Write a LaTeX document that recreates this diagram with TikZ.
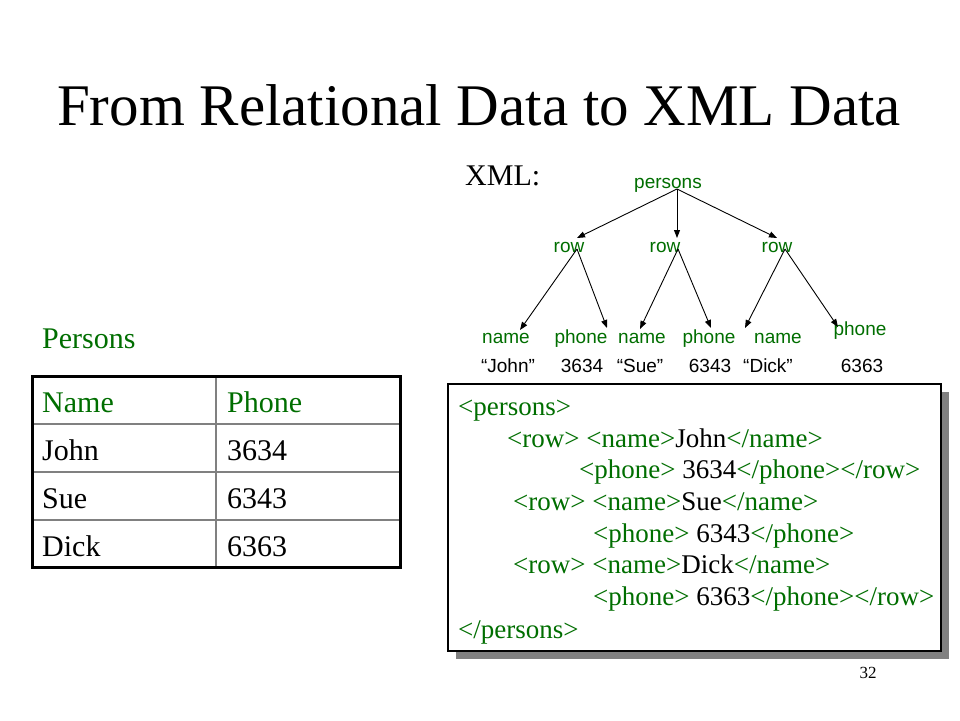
\documentclass[tikz,border=0pt]{standalone}
\usepackage{fontspec}
\setmainfont{Liberation Serif}
\setsansfont{Liberation Sans}
\usetikzlibrary{arrows.meta}
\definecolor{xg}{RGB}{0,110,0}
\definecolor{shadowgray}{RGB}{128,128,128}
\newcommand\gtag[1]{\textcolor{xg}{#1}}
\tikzset{
  treelbl/.style={font=\sffamily\fontsize{19}{21}\selectfont, text=xg, inner sep=0pt, anchor=base},
  treeval/.style={font=\sffamily\fontsize{19}{21}\selectfont, text=black, inner sep=0pt, anchor=base},
  tarrow/.style={-{Triangle[length=8pt,width=6pt]}, line width=0.9pt},
  xmlline/.style={font=\fontsize{27}{30}\selectfont, inner sep=0pt, anchor=base west},
  tbltxt/.style={font=\fontsize{30}{33}\selectfont, inner sep=0pt, anchor=base west},
}
\begin{document}
\begin{tikzpicture}[x=1pt,y=-1pt]
\useasboundingbox (0,0) rectangle (960,720);
\fill[white] (0,0) rectangle (960,720);

% title
\node[font=\fontsize{59}{64}\selectfont, inner sep=0pt, anchor=base] (title) at (479,125) {From Relational Data to XML Data};

% XML label
\node[font=\fontsize{30}{33}\selectfont, inner sep=0pt, anchor=base west] (xmllbl) at (465,185) {XML:};

% tree
\node[treelbl] (pers) at (668,188) {persons};
\node[treelbl] (r1) at (569,252) {row};
\node[treelbl] (r2) at (665,252) {row};
\node[treelbl] (r3) at (777,252) {row};
\node[treelbl] (n1) at (506,343) {name};
\node[treelbl] (ph1) at (581,343) {phone};
\node[treelbl] (n2) at (642,343) {name};
\node[treelbl] (ph2) at (709,343) {phone};
\node[treelbl] (n3) at (778,343) {name};
\node[treelbl] (ph3) at (860,335) {phone};
\node[treeval] (v1) at (508,372) {“John”};
\node[treeval] (v2) at (582,372) {3634};
\node[treeval] (v3) at (640,372) {“Sue”};
\node[treeval] (v4) at (710,372) {6343};
\node[treeval] (v5) at (768,372) {“Dick”};
\node[treeval] (v6) at (862,372) {6363};

\coordinate (pS) at (677,189);
\coordinate (r1N) at (577,238);
\coordinate (r2N) at (677,238);
\coordinate (r3N) at (777,238);
\coordinate (r1S) at (577,249);
\coordinate (r2S) at (678,249);
\coordinate (r3S) at (785,249);
\coordinate (n1N) at (520,330);
\coordinate (ph1N) at (607,328);
\coordinate (n2N) at (640,329);
\coordinate (ph2N) at (711,328);
\coordinate (n3N) at (745,328);
\coordinate (ph3N) at (838,327);
\draw[tarrow] (pS) -- (r1N);
\draw[tarrow] (pS) -- (r2N);
\draw[tarrow] (pS) -- (r3N);
\draw[tarrow] (r1S) -- (n1N);
\draw[tarrow] (r1S) -- (ph1N);
\draw[tarrow] (r2S) -- (n2N);
\draw[tarrow] (r2S) -- (ph2N);
\draw[tarrow] (r3S) -- (n3N);
\draw[tarrow] (r3S) -- (ph3N);

% relational table
\node[tbltxt, text=xg] (plbl) at (42,348) {Persons};
\draw[line width=2pt, shadowgray] (216,376) -- (216,567);
\draw[line width=2pt, shadowgray] (32,424) -- (400,424);
\draw[line width=2pt, shadowgray] (32,472) -- (400,472);
\draw[line width=2pt, shadowgray] (32,520) -- (400,520);
\draw[line width=3pt, black] (32,376) rectangle (400,567);
\node[tbltxt, text=xg] (h1) at (42,412) {Name};
\node[tbltxt, text=xg] (h2) at (227,412) {Phone};
\node[tbltxt] (c11) at (42,460) {John};
\node[tbltxt] (c12) at (227,460) {3634};
\node[tbltxt] (c21) at (42,508) {Sue};
\node[tbltxt] (c22) at (227,508) {6343};
\node[tbltxt] (c31) at (42,556) {Dick};
\node[tbltxt] (c32) at (227,556) {6363};

% XML document box
\fill[shadowgray] (456,392) rectangle (949,659);
\draw[line width=1.3pt, fill=white] (448,384) rectangle (941,651);
\node[xmlline] (l1) at (458,415) {\gtag{<persons>}};
\node[xmlline] (l2) at (507,447) {\gtag{<row>} \gtag{<name>}John\gtag{</name>}};
\node[xmlline] (l3) at (579,478) {\gtag{<phone>} 3634\gtag{</phone></row>}};
\node[xmlline] (l4) at (513,510) {\gtag{<row>} \gtag{<name>}Sue\gtag{</name>}};
\node[xmlline] (l5) at (593,542) {\gtag{<phone>} 6343\gtag{</phone>}};
\node[xmlline] (l6) at (513,573) {\gtag{<row>} \gtag{<name>}Dick\gtag{</name>}};
\node[xmlline] (l7) at (593,605) {\gtag{<phone>} 6363\gtag{</phone></row>}};
\node[xmlline] (l8) at (458,638) {\gtag{</persons>}};

% page number
\node[font=\fontsize{17}{19}\selectfont, inner sep=0pt, anchor=base] (pg) at (868,678) {32};
\end{tikzpicture}
\end{document}
